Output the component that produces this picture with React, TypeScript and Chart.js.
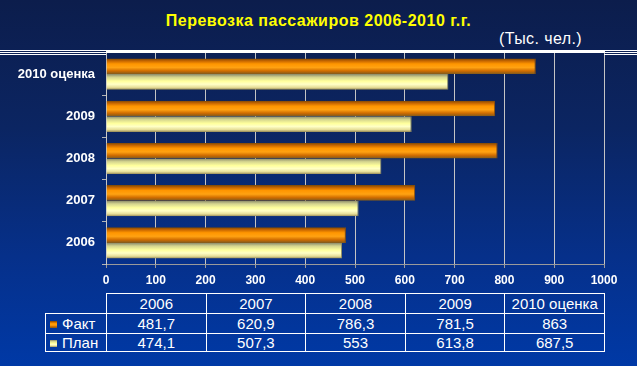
import React, { useEffect, useRef } from "react";
import { Chart, registerables } from "chart.js";

Chart.register(...registerables);

const TITLE = "Перевозка пассажиров 2006-2010 г.г.";
const UNIT = "(Тыс. чел.)";
const categories = ["2006", "2007", "2008", "2009", "2010 оценка"];
const factLabel = "Факт";
const planLabel = "План";
const factValues = [481.7, 620.9, 786.3, 781.5, 863];
const planValues = [474.1, 507.3, 553, 613.8, 687.5];
const xMin = 0;
const xMax = 1000;
const xStep = 100;

const FONT = '"Liberation Sans", Arial, sans-serif';

const factStops: [number, string][] = [
  [0, "#7a4806"],
  [0.15, "#c46400"],
  [0.35, "#ff9600"],
  [0.58, "#ffa212"],
  [0.8, "#cf6c00"],
  [1, "#7e5a1e"],
];
const planStops: [number, string][] = [
  [0, "#8a8a6a"],
  [0.2, "#d4d48e"],
  [0.45, "#ffff9c"],
  [0.65, "#ffffc6"],
  [0.85, "#e6de98"],
  [1, "#968a58"],
];

const fmt = (v: number) => String(v).replace(".", ",");

const gradientPlugin = {
  id: "barGradient",
  beforeDatasetsDraw(chart: any) {
    const ctx = chart.ctx;
    chart.data.datasets.forEach((_ds: any, di: number) => {
      const meta = chart.getDatasetMeta(di);
      const stops = di === 0 ? factStops : planStops;
      meta.data.forEach((el: any) => {
        const { y, height } = el.getProps(["y", "height"], true);
        const top = y - height / 2;
        const g = ctx.createLinearGradient(0, top, 0, top + height);
        stops.forEach(([o, c]) => g.addColorStop(o, c));
        el.options = { ...el.options, backgroundColor: g };
      });
    });
  },
};

const framePlugin = {
  id: "frameLines",
  afterDraw(chart: any) {
    const { ctx, chartArea, width } = chart;
    const t = Math.round(chartArea.top);
    ctx.save();
    ctx.fillStyle = "#ffffff";
    [t - 3, t - 1, t + 1].forEach((yy) => {
      ctx.fillRect(0, yy, chartArea.left, 1);
      ctx.fillRect(chartArea.right, yy, width - chartArea.right, 1);
    });
    ctx.fillRect(chartArea.left, t - 3, chartArea.right - chartArea.left + 1, 3);
    ctx.restore();
  },
};

function Marker({ stops }: { stops: [number, string][] }) {
  const bg = `linear-gradient(to bottom, ${stops
    .map(([o, c]) => `${c} ${o * 100}%`)
    .join(", ")})`;
  return (
    <span
      style={{
        display: "inline-block",
        width: 7,
        height: 7,
        background: bg,
        marginRight: 5,
        verticalAlign: "middle",
        position: "relative",
        top: -1,
      }}
    />
  );
}

export default function App() {
  const canvasRef = useRef<HTMLCanvasElement | null>(null);

  useEffect(() => {
    document.body.style.margin = "0";
    const canvas = canvasRef.current;
    if (!canvas) return;
    Chart.defaults.font.family = FONT;
    const chart = new Chart(canvas, {
      type: "bar",
      data: {
        labels: categories,
        datasets: [
          {
            label: factLabel,
            data: factValues,
            backgroundColor: "#ff9600",
            borderColor: "#9a5400",
            borderWidth: { top: 0, bottom: 0, left: 0, right: 1 },
            borderSkipped: false,
            categoryPercentage: 0.74,
            barPercentage: 1,
          },
          {
            label: planLabel,
            data: planValues,
            backgroundColor: "#ffff9c",
            borderColor: "#9a9260",
            borderWidth: { top: 0, bottom: 0, left: 0, right: 1 },
            borderSkipped: false,
            categoryPercentage: 0.74,
            barPercentage: 1,
          },
        ],
      },
      options: {
        indexAxis: "y",
        responsive: false,
        maintainAspectRatio: false,
        animation: false,
        events: [],
        layout: { padding: { top: 53, right: 33, left: 0, bottom: 0 } },
        plugins: {
          legend: { display: false },
          tooltip: { enabled: false },
          title: { display: false },
        },
        scales: {
          x: {
            type: "linear",
            min: xMin,
            max: xMax,
            afterFit: (s: any) => {
              s.height = 28;
            },
            ticks: {
              stepSize: xStep,
              color: "#ffffff",
              font: { size: 12, weight: "bold", family: FONT },
              padding: 5,
              callback: (v: any) => String(v),
            },
            grid: {
              color: "#c4c4c4",
              lineWidth: 1,
              drawTicks: true,
              tickLength: 4,
              tickColor: "#9a9a9a",
            },
            border: { display: true, color: "#9a9a9a" },
          },
          y: {
            type: "category",
            reverse: true,
            afterFit: (s: any) => {
              s.width = 106;
            },
            ticks: {
              color: "#ffffff",
              font: { size: 13, weight: "bold", family: FONT },
              padding: 7,
            },
            grid: {
              drawOnChartArea: false,
              drawTicks: true,
              tickLength: 4,
              color: "#b4b4b4",
              offset: true,
            },
            border: { display: true, color: "#c8c8c8" },
          },
        },
      },
      plugins: [gradientPlugin, framePlugin],
    } as any);
    return () => chart.destroy();
  }, []);

  const cell: React.CSSProperties = {
    border: "1px solid #ffffff",
    padding: 0,
    textAlign: "center",
    color: "#ffffff",
    whiteSpace: "nowrap",
  };

  return (
    <div
      style={{
        position: "relative",
        width: 637,
        height: 366,
        overflow: "hidden",
        background:
          "linear-gradient(to bottom, #0c1d4c 0%, #0b2562 35%, #06308a 70%, #0039a6 100%)",
        fontFamily: FONT,
      }}
    >
      <div
        style={{
          position: "absolute",
          top: 12,
          left: 0,
          width: 637,
          textAlign: "center",
          color: "#ffff00",
          fontWeight: "bold",
          fontSize: 16,
          letterSpacing: "0.5px",
          lineHeight: "18px",
        }}
      >
        {TITLE}
      </div>
      <div
        style={{
          position: "absolute",
          top: 30,
          left: 499,
          color: "#ffffff",
          fontSize: 16,
          letterSpacing: "0.4px",
          lineHeight: "18px",
        }}
      >
        {UNIT}
      </div>
      <canvas
        ref={canvasRef}
        width={637}
        height={292}
        style={{ position: "absolute", left: 0, top: 0, width: 637, height: 292 }}
      />
      <table
        style={{
          position: "absolute",
          left: 45,
          top: 293,
          borderCollapse: "collapse",
          tableLayout: "fixed",
          fontSize: 15,
          fontFamily: FONT,
        }}
      >
        <colgroup>
          <col style={{ width: 61 }} />
          {categories.map((c) => (
            <col key={c} style={{ width: 99.6 }} />
          ))}
        </colgroup>
        <tbody>
          <tr style={{ height: 20 }}>
            <td style={{ ...cell, borderTop: "hidden", borderLeft: "hidden" }} />
            {categories.map((c) => (
              <td key={c} style={cell}>
                {c}
              </td>
            ))}
          </tr>
          <tr style={{ height: 20 }}>
            <td style={{ ...cell, textAlign: "left", paddingLeft: 4 }}>
              <Marker stops={factStops} />
              {factLabel}
            </td>
            {factValues.map((v, i) => (
              <td key={i} style={cell}>
                {fmt(v)}
              </td>
            ))}
          </tr>
          <tr style={{ height: 18 }}>
            <td style={{ ...cell, textAlign: "left", paddingLeft: 4 }}>
              <Marker stops={planStops} />
              {planLabel}
            </td>
            {planValues.map((v, i) => (
              <td key={i} style={cell}>
                {fmt(v)}
              </td>
            ))}
          </tr>
        </tbody>
      </table>
    </div>
  );
}
